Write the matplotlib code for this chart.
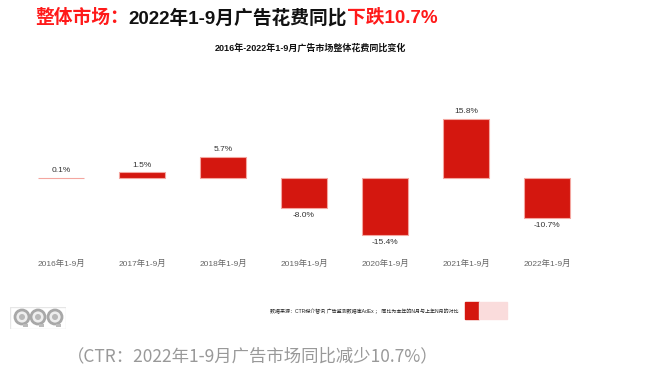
import matplotlib
matplotlib.use("Agg")
import matplotlib.pyplot as plt
from matplotlib.patches import Circle, Rectangle

plt.rcParams['font.family'] = ['Liberation Sans', 'Noto Sans CJK SC']

categories = ["2016年1-9月", "2017年1-9月", "2018年1-9月", "2019年1-9月",
              "2020年1-9月", "2021年1-9月", "2022年1-9月"]
values = [0.1, 1.5, 5.7, -8.0, -15.4, 15.8, -10.7]
value_labels = ["0.1%", "1.5%", "5.7%", "-8.0%", "-15.4%", "15.8%", "-10.7%"]

red = "#D4170F"
W, H = 646, 373

fig = plt.figure(figsize=(6.46, 3.73), dpi=100)
ax = fig.add_axes([20.5 / W, 1 - 275 / H, 567 / W, 175 / H])
x = range(len(categories))
ax.bar(x, values, width=0.57, color=red, edgecolor="#F4A6A0", linewidth=0.8)
ax.set_xlim(-0.5, 6.5)
ax.set_ylim(-26.0, 20.9)
for i, (v, lab) in enumerate(zip(values, value_labels)):
    if v >= 0:
        ax.text(i, v + 1.0, lab, ha="center", va="bottom", fontsize=6, color="#333333")
    else:
        ax.text(i, v - 1.0, lab, ha="center", va="top", fontsize=6, color="#333333")
    ax.text(i, -23.1, categories[i], ha="center", va="center", fontsize=6, color="#666666")
ax.axis("off")

# title in three colours
fig.canvas.draw()
r = fig.canvas.get_renderer()
parts = [("整体市场：", "#FF1A1A"), ("2022年1-9月广告花费同比", "#111111"), ("下跌10.7%", "#FF1A1A")]
xpos = 35 / W
for txt, col in parts:
    t = fig.text(xpos, 1 - 18 / H, txt, color=col, fontsize=13.5, fontweight="bold",
                 ha="left", va="center")
    bb = t.get_window_extent(renderer=r)
    xpos += bb.width / fig.bbox.width

fig.text(310 / W, 1 - 48 / H, "2016年-2022年1-9月广告市场整体花费同比变化",
         fontsize=6.5, fontweight="bold", ha="center", va="center", color="#111111")

# footer
fig.text(459 / W, 1 - 311 / H,
         "数据来源：CTR媒介智讯 广告监测数据库AdEx ； 同比为本年的N月与上年N月的对比",
         fontsize=3.6, ha="right", va="center", color="#222222")
fig.patches.append(Rectangle((465 / W, 1 - 319 / H), 14 / W, 17 / H,
                             transform=fig.transFigure, color=red))
fig.patches.append(Rectangle((479 / W, 1 - 319 / H), 28 / W, 17 / H,
                             transform=fig.transFigure, color="#FADCDC"))

# logo
lax = fig.add_axes([10 / W, 1 - 329 / H, 56 / W, 22 / H])
lax.set_xlim(0, 56)
lax.set_ylim(0, 22)
lax.set_aspect("equal")
lax.axis("off")
lax.add_patch(Rectangle((0, 0), 56, 22, facecolor="white", edgecolor="#E6E6E6", linewidth=1))
for cx in [12, 28, 45]:
    lax.add_patch(Circle((cx, 12), 7, facecolor="#EEEEEE", edgecolor="#A8A8A8", linewidth=2))
    lax.add_patch(Circle((cx, 12), 3, facecolor="#B8B8B8", edgecolor="none"))
    lax.add_patch(Rectangle((cx + 1, 2), 5, 3, facecolor="#BBBBBB", edgecolor="none"))

fig.text(253 / W, 1 - 356 / H, "（CTR：2022年1-9月广告市场同比减少10.7%）",
         fontsize=12.5, ha="center", va="center", color="#999999",
         family=['Noto Sans CJK SC'])

fig.savefig("out.png", dpi=100)
